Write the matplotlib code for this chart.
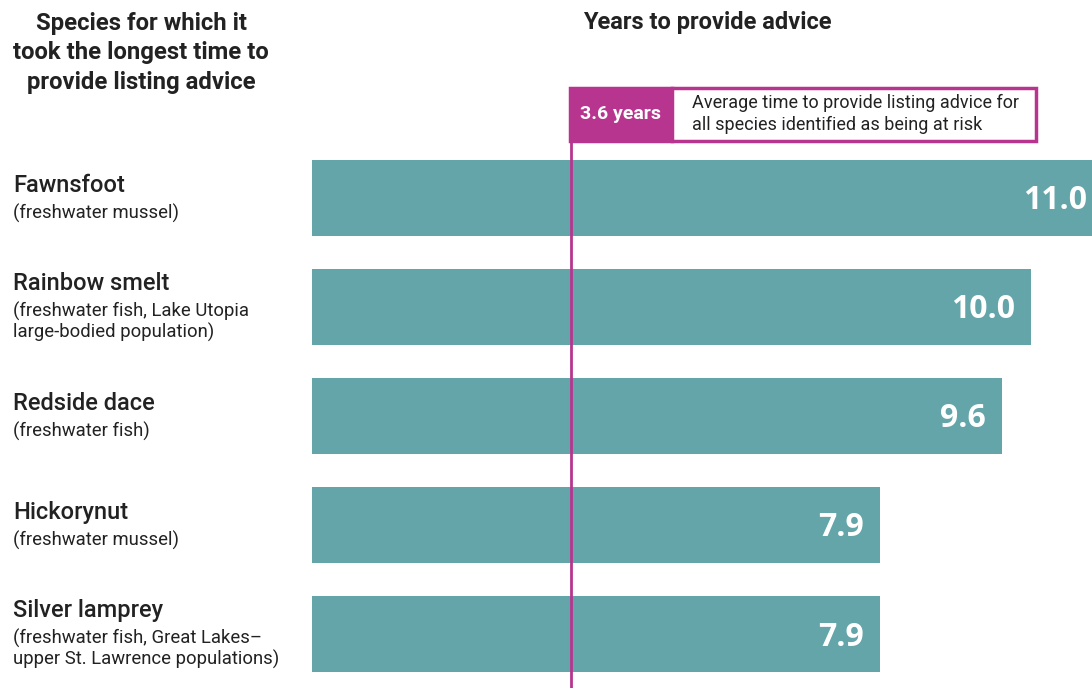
import matplotlib.pyplot as plt
import matplotlib.transforms as mtransforms
from matplotlib.patches import Rectangle

plt.rcParams['font.family'] = ['Roboto', 'DejaVu Sans']

names = ['Fawnsfoot', 'Rainbow smelt', 'Redside dace', 'Hickorynut', 'Silver lamprey']
groups = ['(freshwater mussel)',
          '(freshwater fish, Lake Utopia\nlarge-bodied population)',
          '(freshwater fish)',
          '(freshwater mussel)',
          '(freshwater fish, Great Lakes\u2013\nupper St. Lawrence populations)']
years = [11.0, 10.0, 9.6, 7.9, 7.9]
average = 3.6

teal = '#63a5a9'
magenta = '#b8358f'
dark = '#222222'

W, H = 1092, 688
fig = plt.figure(figsize=(W / 100, H / 100), dpi=100)
ax = fig.add_axes([312 / W, 0, 780 / W, 1])

ypos = list(range(len(names)))
ax.barh(ypos, years, height=0.706, color=teal, zorder=1)
ax.set_xlim(0, 780 / 71.9)
ax.set_ylim((688 - 198) / 109, -198 / 109)
ax.axis('off')

for y, v in zip(ypos, years):
    ax.annotate('{:.1f}'.format(v), (v, y), xytext=(-16, -3), textcoords='offset pixels',
                ha='right', va='center', color='white', fontsize=23, fontweight='bold',
                family=['Open Sans', 'DejaVu Sans'], annotation_clip=False, zorder=3)

# left labels
blend = mtransforms.blended_transform_factory(fig.transFigure, ax.transData)
for y, n, g in zip(ypos, names, groups):
    nl = g.count('\n') + 1
    ax.annotate(n, (13 / W, y), xycoords=blend, xytext=(0, 12 + 11 * (nl - 1)),
                textcoords='offset pixels', ha='left', va='center', fontsize=17,
                fontweight='medium', color=dark, annotation_clip=False)
    ax.annotate(g, (13 / W, y), xycoords=blend, xytext=(0, -15),
                textcoords='offset pixels', ha='left', va='center', fontsize=13.3,
                color=dark, linespacing=1.12, annotation_clip=False)

# headers
fig.text(141 / W, 1 - 53 / H, 'Species for which it\ntook the longest time to\nprovide listing advice',
         ha='center', va='center', fontsize=17.2, fontweight='bold', color=dark, linespacing=1.38)
fig.text(707 / W, 1 - 23 / H, 'Years to provide advice', ha='center', va='center',
         fontsize=17, fontweight='bold', color=dark)

# average line and callout
ax.vlines(average, (688 - 198) / 109, (88 - 198) / 109, color=magenta, lw=2, zorder=2)
fig.add_artist(Rectangle((570 / W, 1 - 141 / H), 102 / W, 53 / H, transform=fig.transFigure,
                         facecolor=magenta, edgecolor=magenta, lw=2.5))
fig.add_artist(Rectangle((672 / W, 1 - 141 / H), 364 / W, 53 / H, transform=fig.transFigure,
                         facecolor='white', edgecolor=magenta, lw=2.5))
fig.text(621 / W, 1 - 114 / H, '{} years'.format(average), ha='center', va='center',
         fontsize=14, fontweight='bold', color='white')
fig.text(692 / W, 1 - 114 / H, 'Average time to provide listing advice for\nall species identified as being at risk',
         ha='left', va='center', fontsize=13, color=dark, linespacing=1.22)

fig.savefig('out.png', dpi=100)
